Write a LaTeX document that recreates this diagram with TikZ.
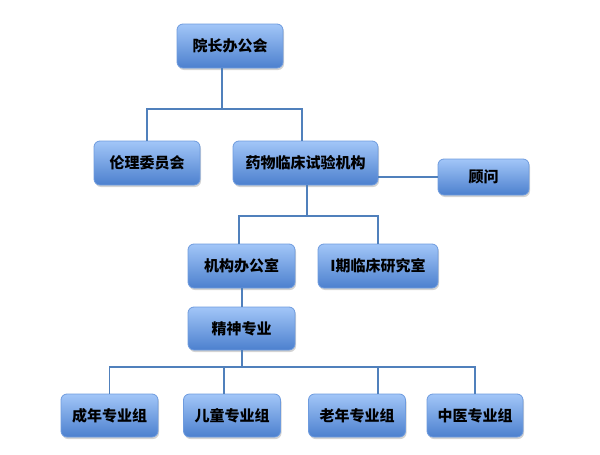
\documentclass[tikz,border=0pt]{standalone}
\usepackage{fontspec}
\setmainfont{Noto Sans CJK SC}
\usetikzlibrary{positioning,shadows}
\definecolor{boxtop}{RGB}{162,198,248}
\definecolor{boxbot}{RGB}{76,128,206}
\definecolor{boxline}{RGB}{110,155,222}
\definecolor{linkblue}{RGB}{80,128,188}
\begin{document}
\begin{tikzpicture}[
    x=1pt, y=-1pt,
    every node/.style={font=\fontsize{15}{18}\selectfont\bfseries},
    unit/.style={draw=boxline, line width=0.8pt, rounded corners=6pt, align=center,
        minimum width=106pt, minimum height=44pt, top color=boxtop, bottom color=boxbot,
        drop shadow={opacity=0.35, shadow xshift=1pt, shadow yshift=-2pt}},
    group/.style={unit, minimum width=97pt, minimum height=43pt},
    link/.style={draw=linkblue, line width=1.8pt}
]
\useasboundingbox (0,0) rectangle (600,455);
% top levels
\node[unit] (dean) at (230,46) {院长办公会};
\node[unit] (ethics) at (147,163) {伦理委员会};
\node[unit, minimum width=145pt] (trial) at (305.5,163) {药物临床试验机构};
\node[unit, minimum width=91pt, minimum height=36pt] (advisor) at (483.5,177) {顾问};
% offices
\node[unit, minimum width=107pt] (office) at (241.5,266) {机构办公室};
\node[unit, minimum width=120pt] (phase) at (378,266) {I期临床研究室};
\node[unit, minimum width=107pt, minimum height=43pt] (psych) at (241.5,328.5) {精神专业};
% specialty groups
\node[group] (adult) at (109.5,415.5) {成年专业组};
\node[group] (child) at (232,415.5) {儿童专业组};
\node[group] (elder) at (357,415.5) {老年专业组};
\node[group, minimum width=96pt] (tcm) at (475,415.5) {中医专业组};
% bus points
\coordinate (bus1) at (222,109);
\coordinate (bus2) at (307,216);
\coordinate (bus3) at (242,367);
% connectors
\begin{scope}[on background layer/.try]
\draw[link] (dean.south -| bus1) -- (bus1);
\draw[link] (ethics.north) |- (bus1) -| ([xshift=-3.5pt]trial.north);
\draw[link] (trial.east |- advisor.west) -- (advisor.west);
\draw[link] (trial.south -| bus2) -- (bus2);
\draw[link] ([xshift=-2.5pt]office.north) |- (bus2) -| (phase.north);
\draw[link] (office.south -| bus3) -- (psych.north -| bus3);
\draw[link] (psych.south -| bus3) -- (bus3);
\draw[link] (adult.north) |- (bus3);
\draw[link] (bus3) -| (tcm.north);
\draw[link] ([xshift=-8pt]child.north) -- ([xshift=-8pt]child.north |- bus3);
\draw[link] ([xshift=21pt]elder.north) -- ([xshift=21pt]elder.north |- bus3);
\end{scope}
\end{tikzpicture}
\end{document}
